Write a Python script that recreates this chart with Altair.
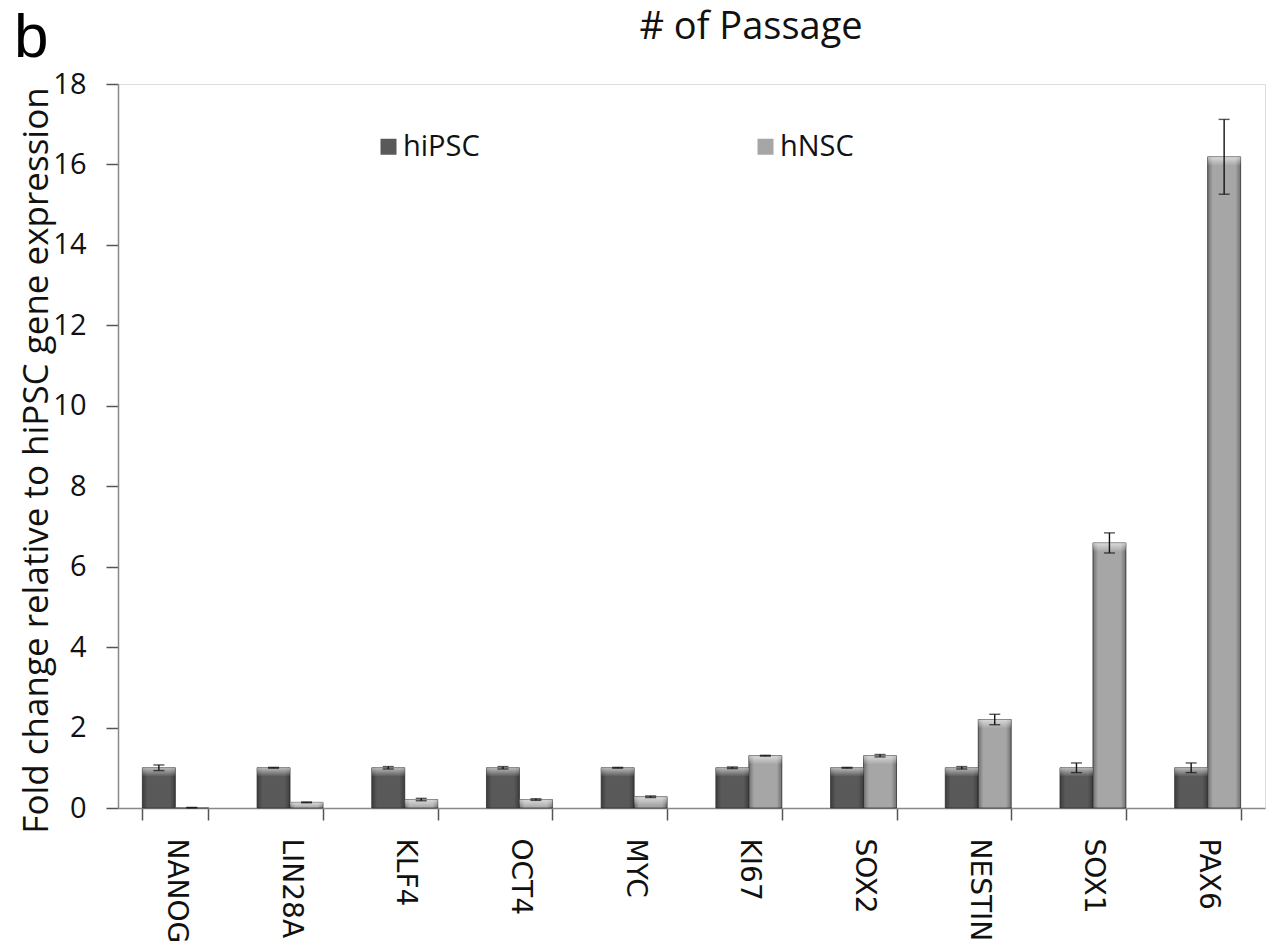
import altair as alt
import pandas as pd

# Gene panel and qPCR fold changes (mean and error) for each cell type
genes = ["NANOG", "LIN28A", "KLF4", "OCT4", "MYC", "KI67", "SOX2", "NESTIN", "SOX1", "PAX6"]
series = ["hiPSC", "hNSC"]
hipsc_mean = [1.00, 1.00, 1.00, 1.00, 1.00, 1.00, 1.00, 1.00, 1.00, 1.00]
hipsc_err = [0.07, 0.01, 0.03, 0.03, 0.01, 0.02, 0.01, 0.03, 0.12, 0.12]
hnsc_mean = [0.01, 0.14, 0.21, 0.21, 0.28, 1.30, 1.30, 2.20, 6.59, 16.19]
hnsc_err = [0.005, 0.01, 0.03, 0.02, 0.02, 0.01, 0.03, 0.13, 0.25, 0.93]
y_ticks = [0, 2, 4, 6, 8, 10, 12, 14, 16, 18]

rows = []
for g, m, e in zip(genes, hipsc_mean, hipsc_err):
    rows.append({"gene": g, "cell": "hiPSC", "value": m, "err": e})
for g, m, e in zip(genes, hnsc_mean, hnsc_err):
    rows.append({"gene": g, "cell": "hNSC", "value": m, "err": e})
df = pd.DataFrame(rows)

base = alt.Chart(df).transform_calculate(
    lo="datum.value - datum.err",
    hi="datum.value + datum.err",
    cap="max(datum.value - 0.22, 0)",
)

x_enc = alt.X(
    "gene:N",
    sort=genes,
    scale=alt.Scale(paddingInner=0.425, paddingOuter=0.2125),
    axis=alt.Axis(
        title=None,
        labelAngle=90,
        labelAlign="left",
        labelBaseline="middle",
        labelFont="DejaVu Sans",
        labelFontSize=28,
        labelColor="#111111",
        labelPadding=18,
        tickSize=12,
        tickColor="#555555",
        tickWidth=1.5,
        tickBand="extent",
        domainColor="#888888",
        domainWidth=1.5,
    ),
)
xo_enc = alt.XOffset("cell:N", sort=series, scale=alt.Scale(paddingInner=0, paddingOuter=0))
y_scale = alt.Scale(domain=[0, 18], nice=False)
y_axis = alt.Axis(
    title="Fold change relative to hiPSC gene expression",
    values=y_ticks,
    grid=False,
    tickSize=12,
    tickColor="#555555",
    tickWidth=1.5,
    domainColor="#888888",
    domainWidth=1.5,
    labelFont="Open Sans",
    labelFontSize=29,
    labelColor="#111111",
    labelPadding=20,
    titleFont="Open Sans",
    titleFontSize=35,
    titleFontWeight="normal",
    titleColor="#111111",
    titleAngle=270,
    titleX=-82,
    titleY=376,
    titleAlign="center",
    titleBaseline="middle",
)

bars = base.mark_bar(stroke="#3a3a3a", strokeWidth=0.8).encode(
    x=x_enc,
    xOffset=xo_enc,
    y=alt.Y("value:Q", scale=y_scale, axis=y_axis),
    color=alt.Color(
        "cell:N",
        sort=series,
        scale=alt.Scale(domain=series, range=["#595959", "#a6a6a6"]),
        legend=alt.Legend(
            title=None,
            orient="none",
            legendX=256,
            legendY=48,
            direction="horizontal",
            symbolType="square",
            symbolSize=256,
            symbolStrokeWidth=0,
            labelFont="Open Sans",
            labelFontSize=29,
            labelColor="#111111",
            labelOffset=0,
            columnPadding=271,
            padding=0,
        ),
    ),
)

# cylinder-like side shading
shade = base.mark_bar(
    fill=alt.Gradient(
        gradient="linear",
        x1=0, x2=1, y1=0, y2=0,
        stops=[
            alt.GradientStop(offset=0, color="rgba(0,0,0,0.32)"),
            alt.GradientStop(offset=0.16, color="rgba(0,0,0,0)"),
            alt.GradientStop(offset=0.84, color="rgba(0,0,0,0)"),
            alt.GradientStop(offset=1, color="rgba(0,0,0,0.32)"),
        ],
    )
).encode(x=x_enc, xOffset=xo_enc, y=alt.Y("value:Q", scale=y_scale))

# light bevel along each bar top
bevel = base.mark_bar(
    fill=alt.Gradient(
        gradient="linear",
        x1=0, x2=0, y1=0, y2=1,
        stops=[
            alt.GradientStop(offset=0, color="rgba(255,255,255,0.6)"),
            alt.GradientStop(offset=1, color="rgba(255,255,255,0)"),
        ],
    )
).encode(x=x_enc, xOffset=xo_enc, y=alt.Y("value:Q", scale=y_scale), y2="cap:Q")

err_rule = base.mark_rule(color="#111111", strokeWidth=1.4).encode(
    x=x_enc, xOffset=xo_enc, y=alt.Y("lo:Q", scale=y_scale), y2="hi:Q"
)
cap_hi = base.mark_tick(color="#111111", size=11, thickness=1.4).encode(
    x=x_enc, xOffset=xo_enc, y=alt.Y("hi:Q", scale=y_scale)
)
cap_lo = base.mark_tick(color="#111111", size=11, thickness=1.4).encode(
    x=x_enc, xOffset=xo_enc, y=alt.Y("lo:Q", scale=y_scale)
)

# panel letter and heading above the plot
panel = alt.Chart(pd.DataFrame({"label": ["b"]})).mark_text(
    font="Liberation Sans", fontSize=62, align="left", baseline="alphabetic", color="#000000"
).encode(text="label:N", x=alt.value(-104), y=alt.value(-27))

heading = alt.Chart(pd.DataFrame({"label": ["# of Passage"]})).mark_text(
    font="Open Sans", fontSize=38, align="center", baseline="alphabetic", color="#111111"
).encode(text="label:N", x=alt.value(633), y=alt.value(-45))

chart = (
    alt.layer(bars, shade, bevel, err_rule, cap_hi, cap_lo, panel, heading)
    .properties(
        width=1147,
        height=724,
        autosize=alt.AutoSizeParams(type="none"),
        padding={"left": 118, "top": 84, "right": 9, "bottom": 139},
    )
    .configure_view(stroke=None)
    .configure(background="white")
)

chart.save("out.html", embed_options={"renderer": "svg", "actions": False})
